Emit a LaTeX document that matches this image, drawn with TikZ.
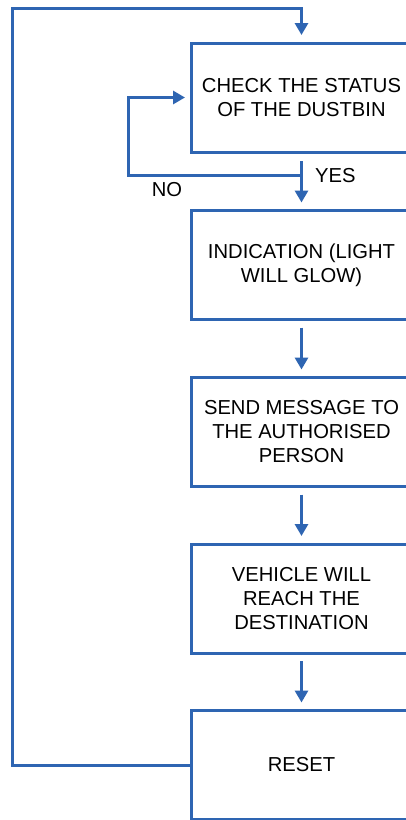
\documentclass[tikz,border=0pt]{standalone}
\usepackage{fontspec}
\setmainfont{Liberation Sans}
\usetikzlibrary{arrows.meta}
\definecolor{flowblue}{RGB}{46,101,178}
\tikzset{
  box/.style={draw=flowblue, line width=3pt, minimum width=221pt, minimum height=109pt,
    inner sep=0pt, outer sep=0pt, align=center, font=\fontsize{20.2}{24}\selectfont},
  arr/.style={draw=flowblue, line width=3pt, -{Triangle[width=13pt,length=12pt]}},
  lbl/.style={inner sep=0pt, font=\fontsize{20.2}{24}\selectfont},
}
\begin{document}
\begin{tikzpicture}[x=1pt,y=-1pt]
\useasboundingbox (0,0) rectangle (406,820);
\fill[white] (0,0) rectangle (406,820);
\clip (0,0) rectangle (406,820);
\node[box] (b1) at (301.5,97.5) {CHECK THE STATUS\\OF THE DUSTBIN};
\node[box] (b2) at (301.5,265) {INDICATION (LIGHT\\WILL GLOW)};
\node[box] (b3) at (301.5,432) {SEND MESSAGE TO\\THE AUTHORISED\\PERSON};
\node[box] (b4) at (301.5,598.5) {VEHICLE WILL\\REACH THE\\DESTINATION};
\node[box] (b5) at (301.5,765) {RESET};
\coordinate (j) at (301.5,175);
\coordinate (nl) at (128,97.5);
\coordinate (tl) at (12,8);
\draw[arr] ([yshift=-9pt]b1.south) -- ([yshift=8pt]b2.north);
\draw[arr] (j) -| (nl) -- ([xshift=-6pt]b1.west);
\draw[arr] ([yshift=-8pt]b2.south) -- ([yshift=8pt]b3.north);
\draw[arr] ([yshift=-8pt]b3.south) -- ([yshift=8pt]b4.north);
\draw[arr] ([yshift=-8pt]b4.south) -- ([yshift=8pt]b5.north);
\draw[arr] (b5.west) -| (tl) -| ([yshift=8pt]b1.north);
\node[lbl, anchor=west] (yes) at (315,176) {YES};
\node[lbl] (no) at (167,190) {NO};
\end{tikzpicture}
\end{document}
